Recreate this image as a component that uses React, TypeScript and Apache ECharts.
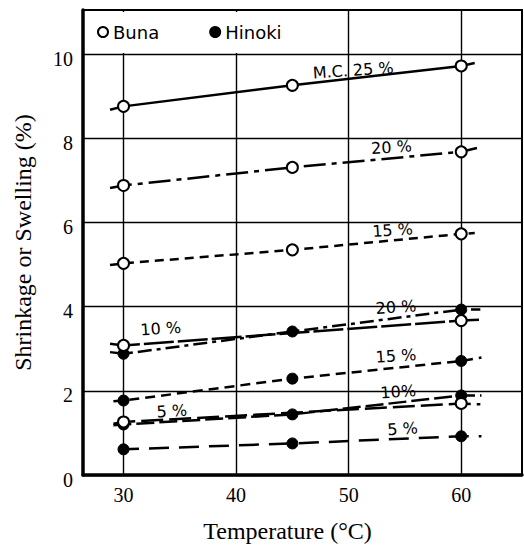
import React, { useEffect, useRef } from "react";
import * as echarts from "echarts";

// Temperatures (°C) at which the measurements were taken
const temperatures = [30, 45, 60];
const xTicks = [30, 40, 50, 60];
const yTicks = [0, 2, 4, 6, 8, 10];

// Buna (open circles), M.C. = moisture content; null = no marker drawn
const buna25 = [8.76, 9.26, 9.72];
const buna20 = [6.88, 7.31, 7.68];
const buna15 = [5.03, 5.35, 5.73];
const buna10 = [3.08, null, 3.67];
const buna5 = [1.26, null, 1.7];

// Hinoki (filled circles)
const hinoki20 = [2.88, 3.41, 3.93];
const hinoki15 = [1.77, 2.29, 2.71];
const hinoki10 = [1.2, 1.44, 1.89];
const hinoki5 = [0.61, 0.75, 0.92];

// Where each drawn line begins and ends
const buna25Ends = [[28.8, 8.68], [61.2, 9.79]];
const buna20Ends = [[28.8, 6.82], [61.4, 7.77]];
const buna15Ends = [[28.8, 4.99], [61.2, 5.75]];
const buna10Ends = [[28.8, 3.12], [61.9, 3.69]];
const buna5Ends = [[29.1, 1.22], [61.7, 1.68]];
const hinoki20Ends = [[28.8, 2.92], [61.7, 3.93]];
const hinoki15Ends = [[29.1, 1.75], [61.8, 2.79]];
const hinoki10Ends = [[29.1, 1.18], [61.8, 1.89]];
const hinoki5Ends = [[29.6, 0.6], [61.8, 0.92]];

// Line labels and where they sit (data units)
const bunaLabels = ["M.C. 25 %", "20 %", "15 %", "10 %", "5 %"];
const bunaLabelAt = [[50.4, 9.62], [53.8, 7.79], [53.9, 5.82], [33.3, 3.48], [34.3, 1.52]];
const hinokiLabels = ["20 %", "15 %", "10%", "5 %"];
const hinokiLabelAt = [[54.2, 3.99], [54.2, 2.83], [54.4, 1.98], [54.8, 1.1]];

const FONT_SANS = "'DejaVu Sans', sans-serif";
const FONT_SERIF = "'Liberation Serif', 'Times New Roman', serif";

function makeSeries(
  name: string,
  values: (number | null)[],
  ends: number[][],
  dash: any,
  labelText: string,
  labelAt: number[],
  filled: boolean,
  z: number
) {
  const data: any[] = [{ value: ends[0], symbol: "none" }];
  temperatures.forEach((t, i) => {
    if (values[i] != null) data.push({ value: [t, values[i]] });
  });
  data.push({ value: ends[1], symbol: "none" });
  return {
    type: "line",
    name,
    z,
    data,
    symbol: "circle",
    symbolSize: 11,
    showAllSymbol: true,
    itemStyle: filled
      ? { color: "#000", borderColor: "#000", borderWidth: 1 }
      : { color: "#fff", borderColor: "#000", borderWidth: 2 },
    lineStyle: { color: "#000", width: 2.5, type: dash },
    markPoint: {
      symbol: "circle",
      symbolSize: 1,
      itemStyle: { color: "transparent" },
      label: {
        show: true,
        position: "inside",
        formatter: labelText,
        color: "#000",
        fontFamily: FONT_SANS,
        fontSize: 16,
        rotate: 4,
      },
      data: [{ coord: labelAt }],
    },
  };
}

export default function App() {
  const ref = useRef<HTMLDivElement>(null);
  useEffect(() => {
    if (!ref.current) return;
    const chart = echarts.init(ref.current, undefined, { renderer: "svg" });
    const series = [
      makeSeries("Hinoki", hinoki20, hinoki20Ends, [14, 5, 4, 5], hinokiLabels[0], hinokiLabelAt[0], true, 2),
      makeSeries("Hinoki", hinoki15, hinoki15Ends, [10, 6], hinokiLabels[1], hinokiLabelAt[1], true, 2),
      makeSeries("Hinoki", hinoki10, hinoki10Ends, [18, 5], hinokiLabels[2], hinokiLabelAt[2], true, 2),
      makeSeries("Hinoki", hinoki5, hinoki5Ends, [20, 10], hinokiLabels[3], hinokiLabelAt[3], true, 2),
      makeSeries("Buna", buna25, buna25Ends, "solid", bunaLabels[0], bunaLabelAt[0], false, 3),
      makeSeries("Buna", buna20, buna20Ends, [22, 6, 5, 6], bunaLabels[1], bunaLabelAt[1], false, 3),
      makeSeries("Buna", buna15, buna15Ends, [9, 6], bunaLabels[2], bunaLabelAt[2], false, 3),
      makeSeries("Buna", buna10, buna10Ends, [30, 4], bunaLabels[3], bunaLabelAt[3], false, 3),
      makeSeries("Buna", buna5, buna5Ends, [22, 6], bunaLabels[4], bunaLabelAt[4], false, 3),
    ];
    chart.setOption({
      animation: false,
      backgroundColor: "#fff",
      textStyle: { fontFamily: FONT_SERIF },
      grid: {
        left: 83,
        top: 10,
        right: 2,
        bottom: 72,
        show: true,
        borderColor: "#000",
        borderWidth: 2,
        backgroundColor: "transparent",
      },
      legend: {
        data: ["Buna", "Hinoki"],
        left: 97,
        top: 23,
        padding: 0,
        icon: "circle",
        itemWidth: 10,
        itemHeight: 10,
        itemGap: 50,
        textStyle: { fontFamily: FONT_SANS, fontSize: 18, color: "#000" },
        selectedMode: false,
        z: 6,
      },
      graphic: [
        {
          type: "rect",
          z: 5,
          shape: { x: 85, y: 12, width: 262, height: 41 },
          style: { fill: "#fff" },
        },
      ],
      xAxis: {
        type: "value",
        min: 26.4,
        max: 65.4,
        name: "Temperature (°C)",
        nameLocation: "middle",
        nameGap: 44,
        nameTextStyle: {
          fontFamily: FONT_SERIF,
          fontSize: 24,
          color: "#000",
          padding: [0, 30, 0, 0],
        },
        axisLine: { show: true, lineStyle: { color: "#000", width: 3.5 } },
        axisTick: { show: false, customValues: xTicks },
        axisLabel: {
          customValues: xTicks,
          margin: 10,
          fontFamily: FONT_SERIF,
          fontSize: 20,
          color: "#000",
        },
        splitLine: { show: true, lineStyle: { color: "#000", width: 1.4 } },
      },
      yAxis: {
        type: "value",
        min: 0,
        max: 11.05,
        name: "Shrinkage or Swelling (%)",
        nameLocation: "middle",
        nameGap: 48,
        nameTextStyle: {
          fontFamily: FONT_SERIF,
          fontSize: 24,
          color: "#000",
        },
        axisLine: { show: true, lineStyle: { color: "#000", width: 3.5 } },
        axisTick: { show: false, customValues: yTicks },
        axisLabel: {
          customValues: yTicks,
          margin: 10,
          formatter: "{t|{value}}",
          rich: {
            t: {
              fontFamily: FONT_SERIF,
              fontSize: 20,
              color: "#000",
              padding: [9, 0, 0, 0],
            },
          },
        },
        splitLine: { show: true, lineStyle: { color: "#000", width: 1.4 } },
      },
      series,
    });
    return () => chart.dispose();
  }, []);
  return (
    <div
      ref={ref}
      style={{ position: "fixed", left: 0, top: 0, width: 524, height: 548 }}
    />
  );
}
